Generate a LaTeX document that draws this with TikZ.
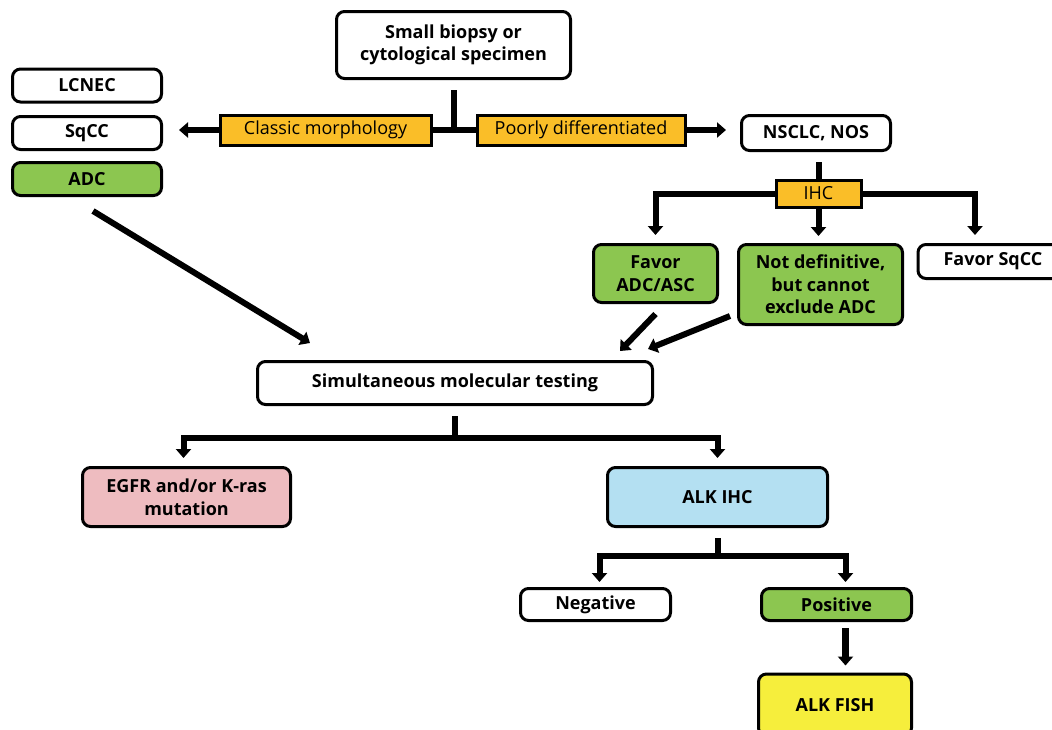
\documentclass[tikz,border=0pt]{standalone}
\usepackage{fontspec}
\setmainfont{Open Sans}
\usetikzlibrary{arrows.meta,calc}
\definecolor{ora}{RGB}{250,190,40}
\definecolor{grn}{RGB}{140,198,80}
\definecolor{pnk}{RGB}{238,188,192}
\definecolor{blu}{RGB}{180,224,242}
\definecolor{yel}{RGB}{246,238,60}
\begin{document}
\begin{tikzpicture}[x=1pt,y=-1pt,
 box/.style={draw, line width=3pt, rounded corners=8pt, align=center, inner sep=0pt, font=\fontsize{18}{22.5}\selectfont\bfseries},
 tag/.style={draw, line width=3pt, fill=ora, inner sep=0pt, font=\fontsize{18}{22}\selectfont},
 line/.style={line width=6pt},
 arr/.style={line width=6pt, -{Triangle[width=15pt,length=9pt]}},
]
\clip (0,0) rectangle (1052,729);
\useasboundingbox (0,0) rectangle (1052,729);
\fill[white] (0,0) rectangle (1052,729);

\node[box, minimum width=234pt, minimum height=67pt] (bio) at (453.5,45) {Small biopsy or\\cytological specimen};
\node[box, minimum width=149pt, minimum height=33pt] (lcnec) at (87,85.5) {LCNEC};
\node[box, minimum width=149pt, minimum height=33pt] (sqcc) at (87,133) {SqCC};
\node[box, fill=grn, minimum width=149pt, minimum height=33pt] (adc) at (87,179) {ADC};
\node[tag, minimum width=211pt, minimum height=30pt] (classic) at (325.5,130) {Classic morphology};
\node[tag, minimum width=208pt, minimum height=30pt] (poorly) at (581,130) {Poorly differentiated};
\node[box, minimum width=149pt, minimum height=35pt] (nsclc) at (816,133) {NSCLC, NOS};
\node[tag, minimum width=85pt, minimum height=27pt] (ihc) at (818.5,193.5) {IHC};
\node[box, fill=grn, minimum width=124pt, minimum height=58pt] (favadc) at (655.5,273.5) {Favor\\ADC/ASC};
\node[box, fill=grn, minimum width=164pt, minimum height=80pt] (notdef) at (820.5,284.5) {Not definitive,\\but cannot\\exclude ADC};
\node[box, minimum width=150pt, minimum height=34pt] (favsq) at (993,261.5) {Favor SqCC};
\node[box, minimum width=395pt, minimum height=43pt] (sim) at (455,383) {Simultaneous molecular testing};
\node[box, fill=pnk, minimum width=208pt, minimum height=59pt] (egfr) at (186.5,497) {EGFR and/or K-ras\\mutation};
\node[box, fill=blu, minimum width=220pt, minimum height=59pt] (alkihc) at (717.5,497) {ALK IHC};
\node[box, minimum width=150pt, minimum height=32pt] (neg) at (595.5,604.5) {Negative};
\node[box, fill=grn, minimum width=150pt, minimum height=32pt] (pos) at (836.5,604.5) {Positive};
\node[box, fill=yel, minimum width=153pt, minimum height=62pt] (fish) at (835,705) {ALK FISH};

% top split
\draw[line, shorten <=10pt] (bio.south) -- (bio.south |- classic.east);
\draw[line] (classic.east) -- (poorly.west);
\draw[arr, shorten >=16pt] (classic.west) -- (classic.west -| sqcc.east);
\draw[arr, shorten >=14pt] (poorly.east) -- (poorly.east -| nsclc.west);

% IHC branch
\draw[line, shorten <=10pt] (nsclc.south -| ihc.north) -- (ihc.north);
\draw[arr, shorten >=8pt] (ihc.west) -| (favadc.north);
\draw[arr, shorten >=8pt] (ihc.east) -| ([xshift=-18pt]favsq.north);
\draw[arr, shorten >=7pt] (ihc.south) -- (ihc.south |- notdef.north);

% to molecular testing
\draw[arr] ($(adc.south)+(6,14)$) -- ($(sim.north)+(-145,-17)$);
\draw[arr] ($(favadc.south)+(0,10)$) -- ($(sim.north)+(165,-9)$);
\draw[arr] ($(notdef.south west)+(-7,-10)$) -- ($(sim.north)+(193,-11)$);

% molecular split
\coordinate (j1) at ($(sim.south)+(0,32)$);
\draw[line, shorten <=10pt] (sim.south) -- (j1);
\draw[arr, shorten >=8pt] (j1) -| ([xshift=-3pt]egfr.north);
\draw[arr, shorten >=8pt] (j1) -| (alkihc.north);

% ALK IHC split
\coordinate (j2) at ($(alkihc.south)+(0,28)$);
\draw[line, shorten <=10pt] (alkihc.south) -- (j2);
\draw[arr, shorten >=5pt] (j2) -| ([xshift=4pt]neg.north);
\draw[arr, shorten >=5pt] (j2) -| ([xshift=9pt]pos.north);
\draw[arr, line width=7pt, shorten <=6pt, shorten >=7pt] ([xshift=9pt]pos.south) -- ([xshift=9pt]pos.south |- fish.north);
\end{tikzpicture}
\end{document}
